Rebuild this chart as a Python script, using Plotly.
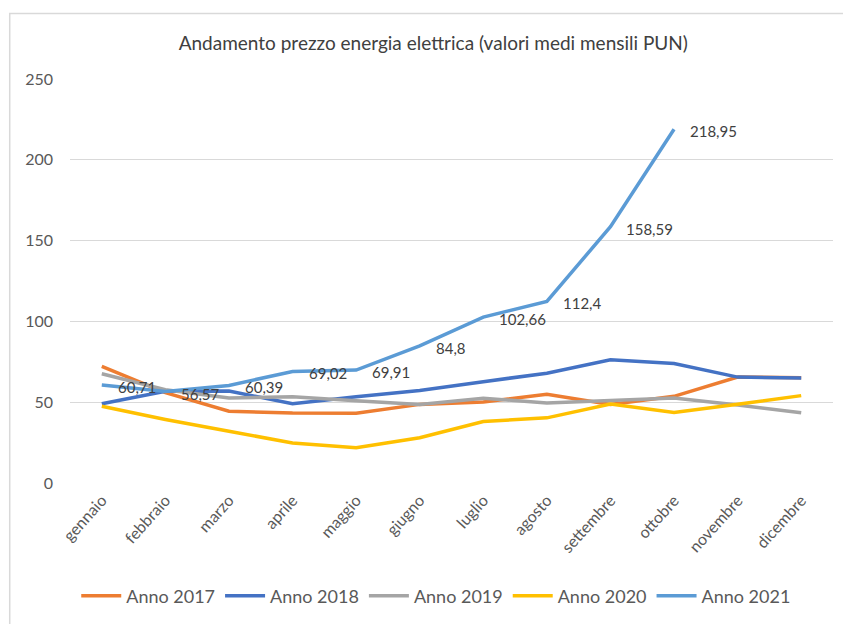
import plotly.graph_objects as go

mesi = ["gennaio", "febbraio", "marzo", "aprile", "maggio", "giugno",
        "luglio", "agosto", "settembre", "ottobre", "novembre", "dicembre"]

anno_2017 = [72.24, 55.87, 44.41, 43.25, 43.19, 48.65, 50.10, 54.95, 48.60, 53.64, 65.59, 65.18]
anno_2018 = [49.00, 56.77, 56.88, 49.07, 53.40, 57.29, 62.70, 67.96, 76.32, 73.94, 65.53, 65.04]
anno_2019 = [67.65, 57.70, 52.63, 53.33, 50.95, 48.53, 52.45, 49.49, 51.05, 52.56, 48.23, 43.41]
anno_2020 = [47.47, 39.30, 32.02, 24.81, 21.79, 28.01, 38.02, 40.32, 48.80, 43.57, 48.75, 54.06]
anno_2021 = [60.71, 56.57, 60.39, 69.02, 69.91, 84.8, 102.66, 112.4, 158.59, 218.95]

serie = [
    ("Anno 2017", anno_2017, "#ED7D31"),
    ("Anno 2018", anno_2018, "#4472C4"),
    ("Anno 2019", anno_2019, "#A5A5A5"),
    ("Anno 2020", anno_2020, "#FFC000"),
    ("Anno 2021", anno_2021, "#5B9BD5"),
]

FONT = "Lato"
TXT = "#595959"

fig = go.Figure()
for nome, valori, colore in serie:
    fig.add_trace(go.Scatter(
        x=mesi[:len(valori)], y=valori, name=nome, mode="lines",
        line=dict(color=colore, width=3.5),
    ))

# valori 2021 scritti a destra di ogni punto, con la virgola decimale
annotazioni = []
for m, v in zip(mesi, anno_2021):
    annotazioni.append(dict(
        x=m, y=v, xref="x", yref="y", text=f"{v:g}".replace(".", ","),
        showarrow=False, xanchor="left", yanchor="middle", xshift=14, yshift=-2,
        font=dict(family=FONT, size=15, color="#404040"),
    ))

fig.update_layout(
    width=843, height=624,
    margin=dict(l=70, r=10, t=79, b=137),
    paper_bgcolor="white", plot_bgcolor="white",
    font=dict(family=FONT, color=TXT),
    title=dict(text="Andamento prezzo energia elettrica (valori medi mensili PUN)",
               x=0.514, xanchor="center", y=0.93, yanchor="middle",
               font=dict(family=FONT, size=19, color="#404040")),
    xaxis=dict(type="category", range=[-0.5, 11.5], showgrid=False, showline=False,
               ticks="", tickangle=-48, ticklabelstandoff=4,
               tickfont=dict(family=FONT, size=16, color=TXT)),
    yaxis=dict(range=[0, 250], dtick=50, showgrid=True, gridcolor="#D9D9D9",
               gridwidth=1, zeroline=False, showline=False, ticks="",
               ticklabelstandoff=16, tickfont=dict(family=FONT, size=16, color=TXT)),
    legend=dict(orientation="h", x=0.48, xanchor="center", y=-0.28, yanchor="middle",
                font=dict(family=FONT, size=18, color=TXT), itemwidth=40,
                tracegroupgap=0),
    annotations=annotazioni,
    shapes=[dict(type="rect", xref="paper", yref="paper",
                 x0=-0.079, x1=1.2, y0=-0.5, y1=1.162,
                 line=dict(color="#D9D9D9", width=1.5), layer="below")],
    showlegend=True,
)

fig.write_html("out.html")
